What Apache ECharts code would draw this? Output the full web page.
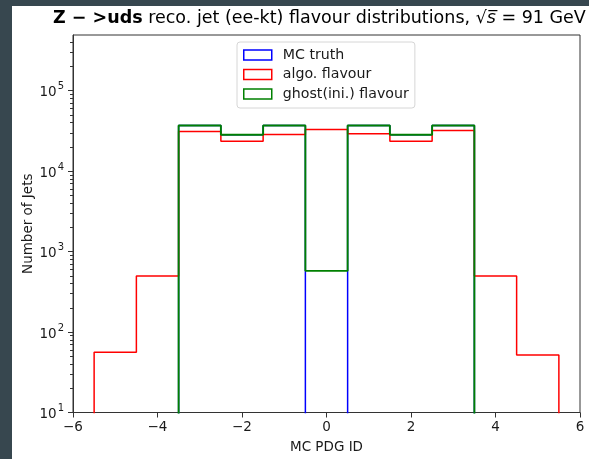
<!DOCTYPE html>
<html>
<head>
<meta charset="utf-8">
<script src="https://cdn.jsdelivr.net/npm/echarts@6/dist/echarts.min.js"></script>
<style>
html,body{margin:0;padding:0;background:#37474f;}
#wrap{position:absolute;left:0;top:0;width:589px;height:459px;background:#37474f;}
#chart{position:absolute;left:12px;top:6px;width:577px;height:453px;background:#ffffff;}
</style>
</head>
<body>
<div id="wrap"><div id="chart"></div></div>
<script>
// bin centres (MC PDG ID), bin width 1
const binCentres = [-5, -4, -3, -2, -1, 0, 1, 2, 3, 4, 5];
// counts per bin (0 = empty bin)
const mcTruth = [0, 0, 37000, 28400, 37000, 0, 37000, 28400, 37000, 0, 0];
const algoFlavour = [56, 496, 31200, 23600, 28600, 33000, 29200, 23600, 32100, 496, 52];
const ghostFlavour = [0, 0, 37000, 28400, 37000, 577, 37000, 28400, 37000, 0, 0];
const seriesNames = ['MC truth', 'algo. flavour', 'ghost(ini.) flavour'];
const xTicks = [-6, -4, -2, 0, 2, 4, 6];
const yMajorTicks = [10, 100, 1000, 10000, 100000];

const OFF = 6;   // offset of the white figure inside the page
const OFFX = 12;

const yMin = 10, yMax = 493000;
const floorVal = 1; // below axis min -> clipped (empty bins)

function outline(vals) {
  const pts = [];
  const w = 1;
  pts.push([binCentres[0] - w / 2, floorVal]);
  for (let i = 0; i < binCentres.length; i++) {
    const v = vals[i] > 0 ? vals[i] : floorVal;
    pts.push([binCentres[i] - w / 2, v]);
    pts.push([binCentres[i] + w / 2, v]);
  }
  pts.push([binCentres[binCentres.length - 1] + w / 2, floorVal]);
  return pts;
}

const yMinor = [];
for (let e = 1; e <= 5; e++) {
  for (let k = 2; k <= 9; k++) {
    const v = k * Math.pow(10, e);
    if (v <= yMax) yMinor.push(v);
  }
}

const colors = ['#0000ff', '#ff0000', '#008000'];
const widths = [1.5, 1.5, 1.9];
const font = 'DejaVu Sans';

const chart = echarts.init(document.getElementById('chart'), null, {renderer: 'canvas'});
chart.setOption({
  animation: false,
  backgroundColor: '#ffffff',
  title: {
    text: '{b|Z − >uds} reco. jet (ee-kt) flavour distributions, √{i|s̅} = 91 GeV',
    left: 53 - OFFX,
    top: 9 - OFF,
    padding: 0,
    textStyle: {
      fontFamily: font, fontSize: 17.5, fontWeight: 'normal', color: '#000',
      rich: {
        b: {fontFamily: font, fontSize: 17.5, fontWeight: 'bold', color: '#000'},
        i: {fontFamily: font, fontSize: 17.5, fontStyle: 'italic', color: '#000'}
      }
    }
  },
  legend: {
    orient: 'vertical',
    left: 237 - OFFX,
    top: 42 - OFF,
    padding: [6, 6, 7, 6],
    itemWidth: 28,
    itemHeight: 10,
    itemGap: 5.5,
    backgroundColor: '#ffffff',
    borderColor: '#d6d6d6',
    borderWidth: 1,
    borderRadius: 3,
    textStyle: {fontFamily: font, fontSize: 14.2, color: '#1a1a1a', padding: [0, 0, 0, 6]},
    data: seriesNames.map((n, i) => ({
      name: n,
      icon: 'rect',
      itemStyle: {color: 'rgba(0,0,0,0)', borderColor: colors[i], borderWidth: 1.5},
      lineStyle: {width: 0, opacity: 0}
    }))
  },
  grid: {
    left: 73 - OFFX,
    right: 589 - 580,
    top: 35 - OFF,
    bottom: 459 - 412.5,
    outerBoundsMode: 'none',
    containLabel: false,
    show: true,
    borderColor: '#333',
    borderWidth: 1,
    backgroundColor: 'transparent'
  },
  xAxis: {
    type: 'value',
    min: -6, max: 6, interval: 2,
    name: 'MC PDG ID',
    nameLocation: 'middle',
    nameGap: 28,
    nameMoveOverlap: false,
    nameTextStyle: {fontFamily: font, fontSize: 13.5, color: '#1a1a1a'},
    axisLine: {show: true, onZero: false, lineStyle: {color: '#333', width: 1}},
    axisTick: {show: true, length: 5, inside: false, lineStyle: {color: '#333'}, customValues: xTicks},
    splitLine: {show: false},
    axisLabel: {
      fontFamily: font, fontSize: 13.5, color: '#1a1a1a', margin: 8,
      customValues: xTicks,
      formatter: v => (v < 0 ? '−' + Math.abs(v) : String(v))
    }
  },
  yAxis: [{
    type: 'log',
    logBase: 10,
    min: yMin, max: yMax,
    name: 'Number of Jets',
    nameLocation: 'middle',
    nameGap: 38,
    nameMoveOverlap: false,
    nameRotate: 90,
    nameTextStyle: {fontFamily: font, fontSize: 13.5, color: '#1a1a1a'},
    axisLine: {show: true, onZero: false, lineStyle: {color: '#333', width: 1}},
    axisTick: {show: true, length: 5, lineStyle: {color: '#333'}, customValues: yMajorTicks},
    splitLine: {show: false},
    minorTick: {show: false},
    axisLabel: {
      margin: 9,
      customValues: yMajorTicks,
      formatter: v => {
        const e = Math.round(Math.log10(v));
        return '{b|10}{s|' + e + '}';
      },
      rich: {
        b: {fontFamily: font, fontSize: 13.5, color: '#1a1a1a', lineHeight: 18, verticalAlign: 'bottom'},
        s: {fontFamily: font, fontSize: 10, color: '#1a1a1a', lineHeight: 18, verticalAlign: 'top', padding: [0, 0, 0, 1]}
      }
    }
  }, {
    type: 'log',
    logBase: 10,
    min: yMin, max: yMax,
    position: 'left',
    axisLine: {show: false, onZero: false},
    axisTick: {show: true, length: 3, lineStyle: {color: '#333'}, customValues: yMinor},
    axisLabel: {show: false},
    splitLine: {show: false}
  }],
  series: [0, 1, 2].map(i => ({
    type: 'line',
    name: seriesNames[i],
    data: outline([mcTruth, algoFlavour, ghostFlavour][i]),
    yAxisIndex: 0,
    showSymbol: false,
    symbol: 'none',
    clip: true,
    itemStyle: {color: colors[i]},
    lineStyle: {color: colors[i], width: widths[i]},
    emphasis: {disabled: true}
  }))
});
</script>
</body>
</html>
